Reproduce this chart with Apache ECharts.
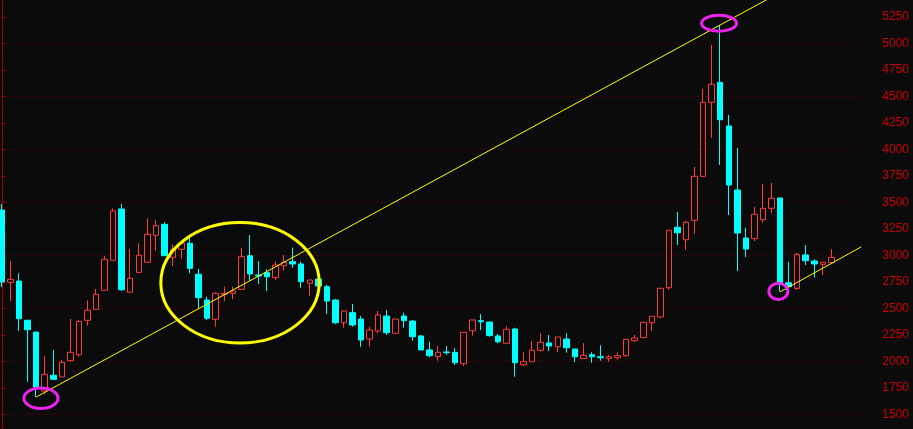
<!DOCTYPE html>
<html>
<head>
<meta charset="utf-8">
<script src="https://cdn.jsdelivr.net/npm/echarts@6/dist/echarts.min.js"></script>
<style>
html,body{margin:0;padding:0;background:#0b0b0b;}
#c{width:913px;height:429px;}
</style>
</head>
<body>
<div id="c"></div>
<script>
// ---- data ----
var categories = [];
for (var k = 1; k <= 98; k++) categories.push(String(k));

var opens = [3427,2745,2757,2387,2276,1720,1868,1852,2006,2062,2387,2490,2670,2953,3437,2651,2839,2934,3189,3292,
2981,3057,3113,2821,2578,2396,2632,2641,2679,2996,2814,2836,2789,2902,2940,2918,2736,2776,2704,2578,
2364,2459,2399,2210,2286,2427,2264,2427,2380,2239,2107,2044,2088,2084,1977,2289,2383,2371,2239,2170,
2305,1968,1996,2104,2173,2138,2210,2116,2025,2062,2043,2025,2034,2053,2194,2223,2364,2418,2694,3264,
3147,3330,3745,4443,4632,4220,3616,3163,3157,3336,3443,3541,2741,2688,3003,2946,2915,2930];
var closes = [2748,2773,2402,2298,1757,1877,1830,1990,2085,2377,2481,2632,2962,3418,2675,2783,3000,3198,3279,2996,
3057,3113,2877,2600,2406,2641,2641,2663,2987,2824,2805,2798,2908,2934,2918,2751,2767,2710,2569,2364,
2475,2343,2201,2295,2437,2270,2399,2383,2232,2107,2053,2085,2082,1987,2273,2390,2374,2242,2185,2302,
1987,1996,2104,2179,2144,2229,2128,2043,2057,2043,2034,2043,2053,2207,2220,2368,2424,2689,3236,3213,
3311,3745,4443,4613,4279,3663,3210,3059,3387,3443,3538,2736,2704,3009,2949,2918,2934,2981];
var lows = [2701,2569,2286,1807,1663,1689,1830,1852,1996,2043,2336,2490,2670,2953,2663,2651,2839,2934,3043,2996,
2899,2971,2830,2500,2390,2326,2569,2585,2679,2760,2729,2663,2767,2855,2883,2694,2619,2690,2446,2351,
2317,2326,2138,2138,2264,2248,2264,2317,2194,2107,2038,2006,2060,1965,1955,2242,2295,2232,2170,2170,
1855,1958,1996,2091,2097,2088,2082,1993,2025,1987,2006,1996,2015,2043,2185,2223,2286,2408,2673,3097,
3050,3204,3740,4109,3852,3380,2852,2984,3135,3308,3399,2657,2700,2673,2908,2789,2814,2930];
var highs = [3484,2946,2830,2387,2276,2050,2106,2015,2399,2387,2575,2682,2993,3443,3484,3059,3113,3349,3333,3311,
3104,3120,3175,2871,2609,2651,2704,2704,3072,3191,2946,2868,2940,3003,3072,2940,2767,2800,2720,2588,
2475,2540,2427,2326,2475,2484,2399,2459,2390,2248,2185,2144,2144,2123,2273,2390,2446,2371,2258,2333,
2317,2085,2192,2264,2248,2229,2264,2116,2170,2085,2151,2060,2085,2207,2248,2368,2424,2689,3236,3408,
3326,3833,4569,4984,5173,4324,4012,3260,3456,3673,3682,3541,2937,3024,3097,2962,2934,3059];

// trend lines: [candle index, price]
var trendLine1 = [[4, 1663], [92, 5524]];
var trendLine2 = [[91, 2655], [100.5, 3080]];

// ---- chart ----
var candleData = [];
for (var i = 0; i < opens.length; i++) {
  candleData.push([opens[i], closes[i], lows[i], highs[i]]);
}

var RED = '#ff3c3c', CYAN = '#00ffff', BG = '#0b0b0b';
var chart = echarts.init(document.getElementById('c'), null, {renderer: 'canvas'});
var option = {
  backgroundColor: BG,
  animation: false,
  grid: {left: -2.3, right: 51.7, top: -9.7, bottom: -38.3, containLabel: false, outerBoundsMode: 'none'},
  xAxis: [
    {type: 'category', data: categories, boundaryGap: true, max: 100, show: false},
    {type: 'value', min: -0.5, max: 100.5, show: false}
  ],
  yAxis: [
    {
      type: 'value', position: 'right', min: 1000, max: 5500, interval: 250,
      axisLine: {show: true, lineStyle: {color: '#990000', width: 1}},
      axisTick: {show: true, length: 4, lineStyle: {color: '#990000'}},
      minorTick: {show: true, splitNumber: 2, length: 2, lineStyle: {color: '#990000'}},
      axisLabel: {color: '#cc0000', fontSize: 12, fontFamily: 'Liberation Sans, Arial, sans-serif', margin: 21,
        formatter: function (v) { return String(v); }},
      splitLine: {show: false}
    },
    {
      type: 'value', position: 'left', min: 1000, max: 5500, interval: 500,
      axisLine: {show: false}, axisTick: {show: false}, axisLabel: {show: false},
      splitLine: {show: true, lineStyle: {color: '#7a0000', type: [1, 3], width: 1}}
    }
  ],
  series: [
    {
      type: 'candlestick', xAxisIndex: 0, yAxisIndex: 0, data: candleData, barWidth: 6,
      itemStyle: {color: BG, color0: CYAN, borderColor: RED, borderColor0: CYAN, borderWidth: 1, borderColorDoji: RED},
      silent: true
    },
    {
      type: 'line', xAxisIndex: 1, yAxisIndex: 0, data: trendLine1, symbol: 'none', silent: true,
      lineStyle: {color: '#ffff00', width: 1}, clip: true, z: 5
    },
    {
      type: 'line', xAxisIndex: 1, yAxisIndex: 0, data: trendLine2, symbol: 'none', silent: true,
      lineStyle: {color: '#ffff00', width: 1}, clip: true, z: 5
    }
  ]
};
chart.setOption(option);

function px(idx, val) { return chart.convertToPixel({xAxisIndex: 1, yAxisIndex: 0}, [idx, val]); }
var a = px(4.56, 1651), b = px(83.86, 5189), c = px(90.8, 2660), y = px(27.84, 2741);
chart.setOption({
  graphic: [
    {type: 'ellipse', shape: {cx: y[0], cy: y[1], rx: 79.2, ry: 60.2}, style: {fill: 'none', stroke: '#ffff00', lineWidth: 3}, z: 10, silent: true},
    {type: 'ellipse', shape: {cx: a[0], cy: a[1], rx: 17, ry: 10.2}, style: {fill: 'none', stroke: '#ee22ee', lineWidth: 3}, z: 10, silent: true},
    {type: 'ellipse', shape: {cx: b[0], cy: b[1], rx: 17.5, ry: 8}, style: {fill: 'none', stroke: '#ee22ee', lineWidth: 3}, z: 10, silent: true},
    {type: 'ellipse', shape: {cx: c[0], cy: c[1], rx: 9.5, ry: 8.2}, style: {fill: 'none', stroke: '#ee22ee', lineWidth: 3}, z: 10, silent: true}
  ]
});
</script>
</body>
</html>
